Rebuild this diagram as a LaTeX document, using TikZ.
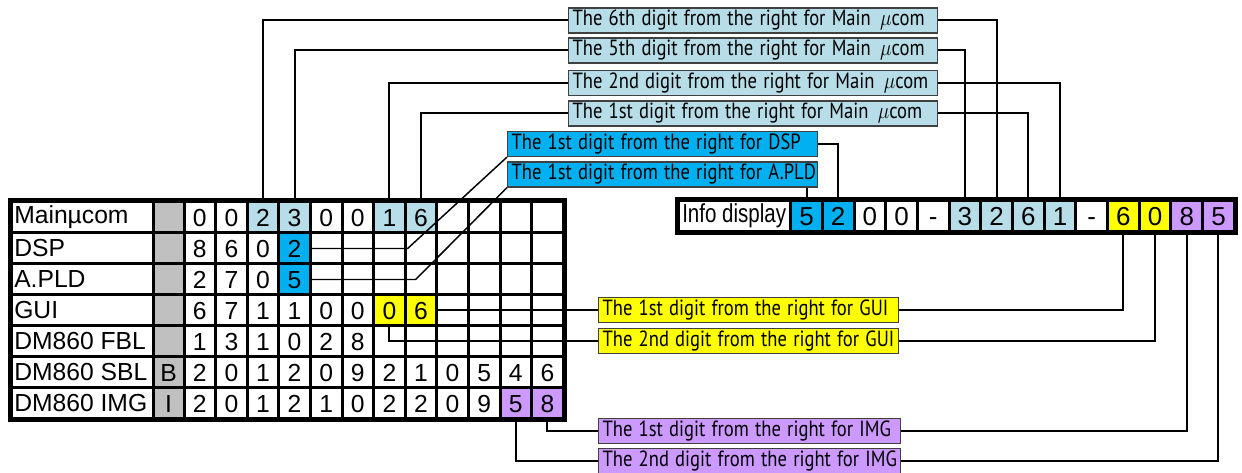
\documentclass[tikz,border=0pt]{standalone}
\usepackage{fontspec}
\setmainfont{Liberation Sans}
\newfontfamily\lblfont{PT Sans}
\usepackage{graphicx}
\definecolor{lb}{HTML}{B7DDE8}
\definecolor{bl}{HTML}{00B0F0}
\definecolor{ye}{HTML}{FFFF00}
\definecolor{pu}{HTML}{CC99FF}
\definecolor{gr}{HTML}{C0C0C0}
\newcommand\lt[1]{\scalebox{0.845}[1]{#1}}
\tikzset{
  cell/.style={rectangle, minimum width=23.7pt, minimum height=23.25pt, inner sep=0pt,
    text height=13.25pt, text depth=0pt,
    font=\fontsize{18.5pt}{20pt}\selectfont},
  dcell/.style={rectangle, minimum width=23.77pt, minimum height=23.25pt, inner sep=0pt,
    text height=14pt, text depth=0pt,
    font=\fontsize{19.5pt}{21pt}\selectfont},
  rowlab/.style={anchor=west, inner sep=0pt, font=\fontsize{18.5pt}{20pt}\selectfont},
  grid/.style={line width=2.25pt, black},
  outer/.style={line width=3.75pt, black},
  conn/.style={line width=1.5pt, black},
  inconn/.style={line width=1.1pt, black},
  lab/.style={draw=black!75, line width=0.9pt, inner xsep=3pt, inner ysep=0pt,
    minimum height=18.75pt, anchor=west, align=left,
    font=\lblfont\fontsize{16.5pt}{18pt}\selectfont},
  labmain/.style={lab, fill=lb, text width=270.75pt},
  labdsp/.style={lab, fill=bl, text width=226.5pt},
  labgui/.style={lab, fill=ye, text width=219pt},
  labimg/.style={lab, fill=pu, text width=220.5pt}
}
\begin{document}
\begin{tikzpicture}[x=0.75pt, y=-0.75pt]
\useasboundingbox (0,0) rectangle (1242,473);
% ---------------- table ----------------
\fill[white] (10,201) rectangle (564.2,420);
\foreach \r/\t in {0/Mainµcom,1/DSP,2/A.PLD,3/GUI,4/DM860 FBL,5/DM860 SBL,6/DM860 IMG}
  \node[rowlab] (l\r) at (14,{217.5+31*\r}) {\t};
\foreach \r/\t in {0/{},1/{},2/{},3/{},4/{},5/B,6/I}
  \node[cell, fill=gr, minimum width=23.25pt] (g\r) at (168.5,{217.5+31*\r}) {\t};
\foreach \v/\c [count=\j] in {0/white,0/white,2/lb,3/lb,0/white,0/white,1/lb,6/lb,{}/white,{}/white,{}/white,{}/white}
  \node[cell, fill=\c] (c0-\j) at ({199.8+31.6*(\j-1)},217.5) {\v};
\foreach \v/\c [count=\j] in {8/white,6/white,0/white,2/bl,{}/white,{}/white,{}/white,{}/white,{}/white,{}/white,{}/white,{}/white}
  \node[cell, fill=\c] (c1-\j) at ({199.8+31.6*(\j-1)},248.5) {\v};
\foreach \v/\c [count=\j] in {2/white,7/white,0/white,5/bl,{}/white,{}/white,{}/white,{}/white,{}/white,{}/white,{}/white,{}/white}
  \node[cell, fill=\c] (c2-\j) at ({199.8+31.6*(\j-1)},279.5) {\v};
\foreach \v/\c [count=\j] in {6/white,7/white,1/white,1/white,0/white,0/white,0/ye,6/ye,{}/white,{}/white,{}/white,{}/white}
  \node[cell, fill=\c] (c3-\j) at ({199.8+31.6*(\j-1)},310.5) {\v};
\foreach \v/\c [count=\j] in {1/white,3/white,1/white,0/white,2/white,8/white,{}/white,{}/white,{}/white,{}/white,{}/white,{}/white}
  \node[cell, fill=\c] (c4-\j) at ({199.8+31.6*(\j-1)},341.5) {\v};
\foreach \v/\c [count=\j] in {2/white,0/white,1/white,2/white,0/white,9/white,2/white,1/white,0/white,5/white,4/white,6/white}
  \node[cell, fill=\c] (c5-\j) at ({199.8+31.6*(\j-1)},372.5) {\v};
\foreach \v/\c [count=\j] in {2/white,0/white,1/white,2/white,1/white,0/white,2/white,2/white,0/white,9/white,5/pu,8/pu}
  \node[cell, fill=\c] (c6-\j) at ({199.8+31.6*(\j-1)},403.5) {\v};
\foreach \x in {153,184,215.6,247.2,278.8,310.4,342,373.6,405.2,436.8,468.4,500,531.6}
  \draw[grid] (\x,201) -- (\x,420);
\foreach \y in {233,264,295,326,357,388}
  \draw[grid] (10,\y) -- (564.2,\y);
\draw[outer] (10,201) rectangle (564.2,420);
% ---------------- info display ----------------
\fill[white] (677.5,199.5) rectangle (1235.3,232.5);
\node[rowlab, font=\fontsize{19.5pt}{21pt}\selectfont] (info) at (682,216) {\scalebox{0.79}[1]{Info display}};
\foreach \v/\c [count=\k] in {5/bl,2/bl,0/white,0/white,-/white,3/lb,2/lb,6/lb,1/lb,-/white,6/ye,0/ye,8/pu,5/pu}
  \node[dcell, fill=\c] (dd\k) at ({806.5+31.69*(\k-1)},216) {\v};
\foreach \k in {0,...,13}
  \draw[grid] ({790.65+31.69*\k},199.5) -- ({790.65+31.69*\k},232.5);
\draw[outer] (677.5,199.5) rectangle (1235.3,232.5);
% ---------------- label boxes ----------------
\node[labmain] (lm6) at (568,20.5) {\lt{The 6th digit from the right for Main~\,$\mu$com}};
\node[labmain] (lm5) at (568,50.5) {\lt{The 5th digit from the right for Main~\,$\mu$com}};
\node[labmain] (lm2) at (568,83) {\lt{The 2nd digit from the right for Main~\,$\mu$com}};
\node[labmain] (lm1) at (568,113.5) {\lt{The 1st digit from the right for Main~\,$\mu$com}};
\node[labdsp] (dsp) at (507,144) {\lt{The 1st digit from the right for DSP}};
\node[labdsp] (apl) at (507,174.5) {\lt{The 1st digit from the right for A.PLD}};
\node[labgui] (gui1) at (598,310) {\lt{The 1st digit from the right for GUI}};
\node[labgui] (gui2) at (598,341) {\lt{The 2nd digit from the right for GUI}};
\node[labimg] (img1) at (598,431) {\lt{The 1st digit from the right for IMG}};
\node[labimg] (img2) at (598,461) {\lt{The 2nd digit from the right for IMG}};
% ---------------- connectors ----------------
\draw[conn] (lm6.west) -| (c0-3.north);
\draw[conn] (lm5.west) -| (c0-4.north);
\draw[conn] (lm2.west) -| (c0-7.north);
\draw[conn] (lm1.west) -| (c0-8.north);
\draw[conn] (lm6.east) -| (dd7.north);
\draw[conn] (lm5.east) -| (dd6.north);
\draw[conn] (lm2.east) -| (dd9.north);
\draw[conn] (lm1.east) -| (dd8.north);
\draw[conn] (dsp.east) -| (dd2.north);
\draw[conn] (apl.south -| dd1.north) -- (dd1.north);
\draw[inconn] (c1-4.east) -- ++(97,0) -- (dsp.south west);
\draw[inconn] (c2-4.east) -- ++(105,0) -- (apl.south west);
\draw[conn] (gui1.west -| c3-8.east) -- (gui1.west);
\draw[conn] (c3-7.south) |- (gui2.west);
\draw[conn] (c6-12.south) |- (img1.west);
\draw[conn] (c6-11.south) |- (img2.west);
\draw[conn] (gui1.east) -| (dd11.south);
\draw[conn] (gui2.east) -| (dd12.south);
\draw[conn] (img1.east) -| (dd13.south);
\draw[conn] (img2.east) -| (dd14.south);
\end{tikzpicture}
\end{document}
